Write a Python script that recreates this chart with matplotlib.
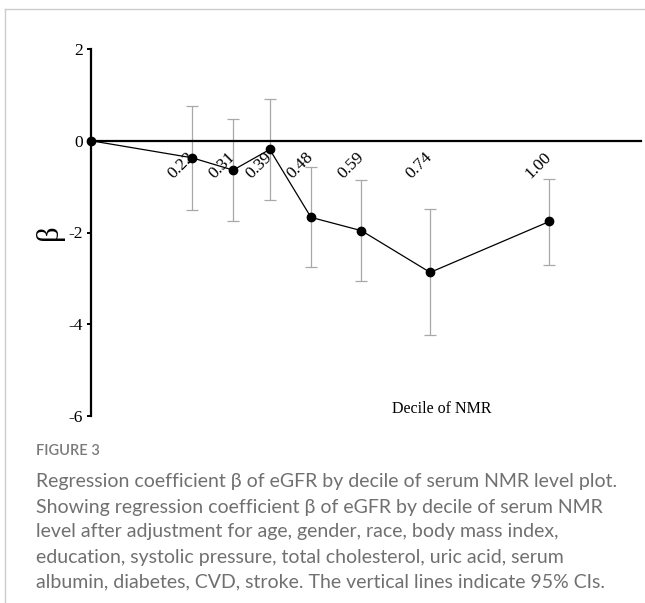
import numpy as np
import matplotlib
matplotlib.use("Agg")
import matplotlib.pyplot as plt
from matplotlib.lines import Line2D

plt.rcParams['axes.unicode_minus'] = False

# data
deciles = [0.0, 0.22, 0.31, 0.39, 0.48, 0.59, 0.74, 1.00]
beta = [0.0, -0.37, -0.64, -0.19, -1.67, -1.96, -2.87, -1.76]
ci_low = [np.nan, -1.50, -1.75, -1.29, -2.76, -3.06, -4.24, -2.71]
ci_high = [np.nan, 0.76, 0.47, 0.92, -0.58, -0.85, -1.49, -0.84]
tick_labels = ["0.22", "0.31", "0.39", "0.48", "0.59", "0.74", "1.00"]
y_ticks = [2, 0, -2, -4, -6]

caption_title = "FIGURE 3"
caption_lines = [
    "Regression coefficient \u03b2 of eGFR by decile of serum NMR level plot.",
    "Showing regression coefficient \u03b2 of eGFR by decile of serum NMR",
    "level after adjustment for age, gender, race, body mass index,",
    "education, systolic pressure, total cholesterol, uric acid, serum",
    "albumin, diabetes, CVD, stroke. The vertical lines indicate 95% CIs.",
]

serif = "Liberation Serif"

fig = plt.figure(figsize=(6.45, 6.03), dpi=100)
ax = fig.add_axes([91 / 645, 1 - 416 / 603, 550 / 645, 367 / 603])

x = np.array(deciles)
y = np.array(beta)
lo = np.array(ci_low)
hi = np.array(ci_high)

# 95% CI bars
ax.errorbar(x[1:], y[1:], yerr=[y[1:] - lo[1:], hi[1:] - y[1:]], fmt="none",
            ecolor="#a8a8a8", elinewidth=0.9, capsize=4, capthick=0.9, zorder=2)
ax.plot(x, y, color="black", lw=0.9, marker="o", ms=6, zorder=3, clip_on=False)

ax.set_xlim(0, 1.2)
ax.set_ylim(-6, 2)

ax.spines["top"].set_visible(False)
ax.spines["right"].set_visible(False)
ax.spines["bottom"].set_position(("data", 0))
ax.spines["bottom"].set_linewidth(1.6)
ax.spines["left"].set_linewidth(1.6)

ax.set_yticks(y_ticks)
ax.set_yticklabels([str(v) for v in y_ticks], fontfamily=serif, fontsize=12.5)
ax.tick_params(axis="y", direction="out", length=3, width=1.4, pad=3)

ax.set_xticks(deciles[1:])
ax.set_xticklabels(tick_labels, fontfamily=serif, fontsize=12.5, rotation=45,
                   ha="right", va="center", rotation_mode="anchor")
ax.tick_params(axis="x", length=0, pad=10)

ax.set_ylabel("\u03b2", fontfamily=serif, fontsize=22, labelpad=3)
ax.text(0.638, 0.018, "Decile of NMR", transform=ax.transAxes,
        fontfamily=serif, fontsize=11.5, ha="center", va="center")

# caption
fig.text(36 / 645, 1 - 451 / 603, caption_title, fontfamily="Lato",
         fontweight="semibold", fontsize=10.5, color="#7a7a7a", va="center")
for i, line in enumerate(caption_lines):
    fig.text(36 / 645, 1 - (482 + 25 * i) / 603, line, fontfamily="Lato",
             fontsize=14, color="#707070", va="center")

# panel frame (top and left)
fig.add_artist(Line2D([5 / 645, 1], [1 - 9 / 603, 1 - 9 / 603],
                      transform=fig.transFigure, color="#cccccc", lw=1))
fig.add_artist(Line2D([5 / 645, 5 / 645], [0, 1 - 9 / 603],
                      transform=fig.transFigure, color="#cccccc", lw=1))

fig.savefig("out.png", dpi=100)
